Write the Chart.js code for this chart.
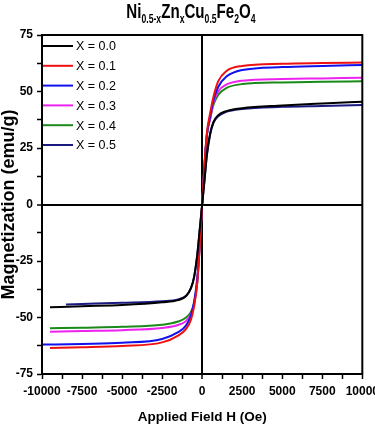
<!DOCTYPE html>
<html>
<head>
<meta charset="utf-8">
<script src="https://cdn.jsdelivr.net/npm/chart.js@4.4.1/dist/chart.umd.min.js"></script>
<style>
    html, body { margin: 0; padding: 0; background: #fff; overflow: hidden; }
    #wrap { position: relative; width: 375px; height: 429px; overflow: hidden; }
    #box { position: absolute; left: 0; top: 0; width: 384px; height: 429px; }
    #title {
        position: absolute; left: 0; top: -1px; width: 382px; text-align: center;
        font: bold 21px 'Liberation Sans', Arial, sans-serif;
        color: #000;
        transform: scaleX(0.72);
        transform-origin: 191px 0;
    }
    #title sub { font-size: 12px; }
</style>
</head>
<body>
<div id="wrap">
    <div id="box"><canvas id="chart"></canvas></div>
    <div id="title">Ni<sub>0.5-x</sub>Zn<sub>x</sub>Cu<sub>0.5</sub>Fe<sub>2</sub>O<sub>4</sub></div>
</div>
<script>
// Données (champ en Oe, aimantation en emu/g)
const seriesLabels = ['X = 0.0', 'X = 0.1', 'X = 0.2', 'X = 0.3', 'X = 0.4', 'X = 0.5'];
const hCommon = [-7500, -5000, -2500, -1500, -1000, -700, -500, -300, -150, 0, 150, 300, 500, 700, 1000, 1500, 2500, 5000, 7500, 10000];

const field00 = [-9500, ...hCommon];
const mag00 = [-45.5, -45.0, -44.5, -43.3, -42.3, -40.5, -37.0, -32.0, -22.0, -11.0, 0, 11.0, 22.5, 31.5, 36.5, 39.5, 41.3, 42.6, 43.8, 44.7, 45.5];

const field01 = [-9500, ...hCommon];
const mag01 = [-63.5, -63.2, -62.6, -61.0, -58.0, -55.0, -51.0, -45.0, -34.0, -18.0, 0, 18.0, 32.0, 40.5, 47.5, 54.5, 59.0, 61.3, 62.3, 62.6, 62.8];

const field02 = [-10000, ...hCommon];
const mag02 = [-62.0, -61.7, -61.2, -59.5, -56.5, -53.5, -49.0, -43.0, -32.0, -17.0, 0, 17.0, 31.0, 39.0, 46.0, 52.0, 56.5, 59.5, 60.8, 61.3, 61.7];

const field03 = [-9500, ...hCommon];
const mag03 = [-56.3, -56.0, -55.6, -54.6, -53.3, -51.5, -48.5, -44.0, -34.0, -18.0, 0, 18.0, 31.0, 38.0, 45.0, 50.0, 53.0, 54.8, 55.5, 55.8, 56.1];

const field04 = [-9500, ...hCommon];
const mag04 = [-54.8, -54.5, -54.1, -53.2, -51.8, -50.0, -47.5, -43.5, -34.0, -18.0, 0, 18.0, 31.0, 38.0, 44.0, 48.5, 51.5, 53.3, 54.0, 54.3, 54.5];

const field05 = [-8500, ...hCommon];
const mag05 = [-44.2, -44.0, -43.5, -42.8, -42.0, -40.3, -37.0, -32.0, -22.0, -11.0, 0, 11.0, 22.0, 31.0, 36.0, 39.0, 41.0, 42.3, 43.2, 43.6, 44.0];

const fields = [field00, field01, field02, field03, field04, field05];
const mags = [mag00, mag01, mag02, mag03, mag04, mag05];
const colors = ['#000000', '#ee1111', '#1111ee', '#ee22ee', '#1a8a1a', '#1a1a80'];

const sans = "'Liberation Sans', Arial, sans-serif";

// légende dessinée dans la zone du graphique, en haut à gauche
const insideLegend = {
    id: 'insideLegend',
    afterDatasetsDraw(chart) {
        const { ctx, chartArea } = chart;
        ctx.save();
        ctx.font = '12.5px ' + sans;
        ctx.textBaseline = 'middle';
        ctx.fillStyle = '#000';
        chart.data.datasets.forEach((ds, i) => {
            const y = chartArea.top + 11 + i * 19.8;
            ctx.strokeStyle = ds.borderColor;
            ctx.lineWidth = 2;
            ctx.beginPath();
            ctx.moveTo(chartArea.left + 1, y);
            ctx.lineTo(chartArea.left + 31, y);
            ctx.stroke();
            ctx.fillText(ds.label, chartArea.left + 34, y + 1);
        });
        ctx.restore();
    }
};

// cadre complet autour du graphique
const frame = {
    id: 'frame',
    afterDraw(chart) {
        const { ctx, chartArea } = chart;
        ctx.save();
        ctx.strokeStyle = '#000';
        ctx.lineWidth = 2;
        ctx.strokeRect(chartArea.left, chartArea.top, chartArea.right - chartArea.left, chartArea.bottom - chartArea.top);
        ctx.restore();
    }
};

const zeroGrid = {
    drawOnChartArea: true,
    color: c => (c.tick && c.tick.value === 0) ? '#000' : 'rgba(0,0,0,0)',
    lineWidth: c => (c.tick && c.tick.value === 0) ? 2 : 1,
    tickColor: '#000',
    tickLength: 5,
    tickWidth: 1.5
};

new Chart(document.getElementById('chart'), {
    type: 'line',
    data: {
        datasets: seriesLabels.map((label, i) => ({
            label: label,
            data: fields[i].map((h, k) => ({ x: h, y: mags[i][k] })),
            borderColor: colors[i],
            backgroundColor: colors[i],
            borderWidth: 2,
            pointRadius: 0,
            cubicInterpolationMode: 'monotone',
            fill: false
        }))
    },
    options: {
        responsive: true,
        maintainAspectRatio: false,
        animation: false,
        layout: { padding: { top: 35, bottom: 0, left: 0, right: 0 } },
        plugins: {
            legend: { display: false },
            tooltip: { enabled: false }
        },
        scales: {
            x: {
                type: 'linear',
                min: -10000,
                max: 10000,
                grid: zeroGrid,
                border: { display: true, color: '#000', width: 2 },
                afterFit: scale => { scale.height = 55; },
                ticks: {
                    stepSize: 1250,
                    autoSkip: false,
                    maxRotation: 0,
                    padding: 5,
                    color: '#000',
                    font: { family: sans, size: 12, weight: 'bold' },
                    callback: v => (v % 2500 === 0 ? String(v) : '')
                },
                title: {
                    display: true,
                    text: 'Applied Field H (Oe)',
                    color: '#000',
                    font: { family: sans, size: 13.5, weight: 'bold' },
                    padding: { top: 0, bottom: 4 }
                }
            },
            y: {
                min: -75,
                max: 75,
                grid: zeroGrid,
                border: { display: true, color: '#000', width: 2 },
                afterFit: scale => { scale.width = 42; },
                ticks: {
                    stepSize: 12.5,
                    autoSkip: false,
                    padding: 4,
                    color: '#000',
                    font: { family: sans, size: 12, weight: 'bold' },
                    callback: v => (v % 25 === 0 ? String(v) : '')
                },
                title: {
                    display: true,
                    text: 'Magnetization (emu/g)',
                    color: '#000',
                    font: { family: sans, size: 18, weight: 'bold', lineHeight: 1.0 },
                    padding: { top: 0, bottom: 0 }
                }
            }
        }
    },
    plugins: [insideLegend, frame]
});
</script>
</body>
</html>
